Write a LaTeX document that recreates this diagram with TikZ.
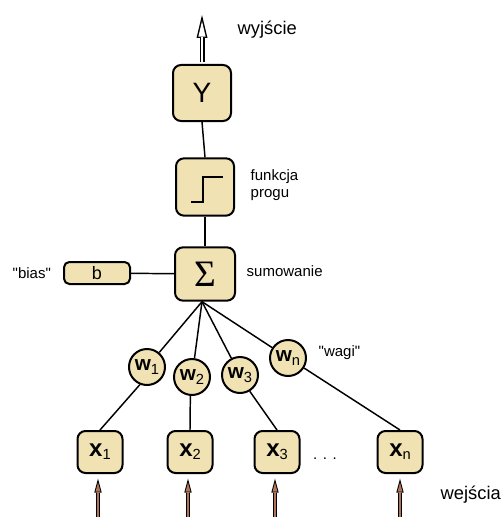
\documentclass[tikz,border=0pt]{standalone}
\usepackage{fontspec}
\setmainfont{Liberation Sans}[Ligatures=TeXOff]
\newfontfamily\sigmafont{Liberation Serif}
\usepackage{tikz}
\usetikzlibrary{arrows.meta}
\usetikzlibrary{positioning}
\definecolor{boxtan}{RGB}{240,226,178}
\definecolor{inbrown}{RGB}{178,116,88}
\newcommand{\xlab}[1]{{\fontsize{18}{18}\selectfont\bfseries x}\raisebox{-2.2pt}{\fontsize{11}{11}\selectfont #1}}
\newcommand{\wlab}[1]{{\fontsize{15.5}{15.5}\selectfont\bfseries w}\raisebox{-2.6pt}{\fontsize{11}{11}\selectfont #1}}

\begin{document}
\begin{tikzpicture}[x=0.75pt, y=-0.75pt, line width=1.1pt,
unit/.style={draw, fill=boxtan, rounded corners=6pt, line width=1.5pt, inner sep=0pt},
bigbox/.style={unit, minimum width=43.5pt, minimum height=42pt},
inbox/.style={unit, minimum width=33.75pt, minimum height=31.5pt},
weight/.style={draw, circle, fill=boxtan, line width=1.5pt, minimum size=27pt, inner sep=0pt},
lbl/.style={anchor=west, inner sep=0pt, font=\fontsize{11.25}{13}\selectfont},
biglbl/.style={anchor=west, inner sep=0pt, font=\fontsize{13.75}{16}\selectfont},
outarrow/.style={line width=3.75pt, -{Triangle[length=17.25pt, width=8.25pt, line width=0pt]},
postaction={draw=white, line width=1.55pt, shorten >=4.7pt, -{Triangle[length=11.45pt, width=5.45pt, line width=0pt]}}},
inarrow/.style={line width=3.4pt, shorten >=3.5pt, -{Triangle[length=10.5pt, width=5.6pt, line width=0pt]},
postaction={draw=inbrown, line width=1.7pt, shorten >=6.4pt, -{Triangle[length=6.85pt, width=3.65pt, line width=0pt]}}}]
\useasboundingbox (0,0) rectangle (500,517);
% neuron
\node[bigbox] (Y) at (202,93) {\fontsize{21}{21}\selectfont Y};
\node[bigbox, minimum height=43pt] (step) at (205,187) {};
\node[bigbox, minimum width=45pt, minimum height=40pt, font=\sigmafont\fontsize{28}{28}\selectfont] (sum) at (205,274) {Σ};
\node[unit, rounded corners=4pt, minimum width=49.5pt, minimum height=16.5pt] (b) at (97,273) {\fontsize{13.5}{13.5}\selectfont b};
\draw[line width=1.5pt] ([shift={(-14,15)}]step.center) -- ++(12,0) -- ++(0,-25) -- ++(20,0);
% inputs and weights
\foreach \i/\x in {1/100, 2/190, 3/277, n/400}{
\node[inbox] (x\i) at (\x,452) {\xlab{\i}};}
\foreach \i/\x/\y in {1/147/367, 2/192/377, 3/240/375, n/288/358}{
\node[weight] (w\i) at (\x,\y) {\wlab{\i}};}
\node[anchor=base, inner sep=0pt, font=\fontsize{11.25}{13}\selectfont] (dots) at (325,459) {. . .};
% labels
\node[biglbl] (out) at (237,30) {wyjście};
\node[lbl, align=left] (fun) at (250,185) {funkcja\\progu};
\node[lbl] (sumlbl) at (246,271) {sumowanie};
\node[lbl] (bias) at (12,273) {"bias"};
\node[lbl] (wagi) at (318,353) {"wagi"};
\node[biglbl] (inp) at (440,495) {wejścia};
% connections
\draw (Y.south) -- (step.north);
\draw (step.south) -- (sum.north);
\draw (b) -- (sum);
\coordinate (sumfoot) at ([xshift=-2.25pt]sum.south);
\foreach \i in {1, 2, 3, n}{
\draw (sumfoot) -- (w\i);}
\foreach \i/\a in {1/-112, 2/-95, 3/-59, n/-32}{
\draw (w\i.\a) -- (x\i.north);}
% arrows
\coordinate (outtip) at (202,15);
\draw[outarrow] ([yshift=1.2pt]Y.north) -- (outtip);
\foreach \i/\x in {1/98, 2/188, 3/275, n/400}{
\coordinate (in\i) at (\x,517);
\draw[inarrow] (in\i) -- (in\i |- x\i.south);}
\end{tikzpicture}
\end{document}
